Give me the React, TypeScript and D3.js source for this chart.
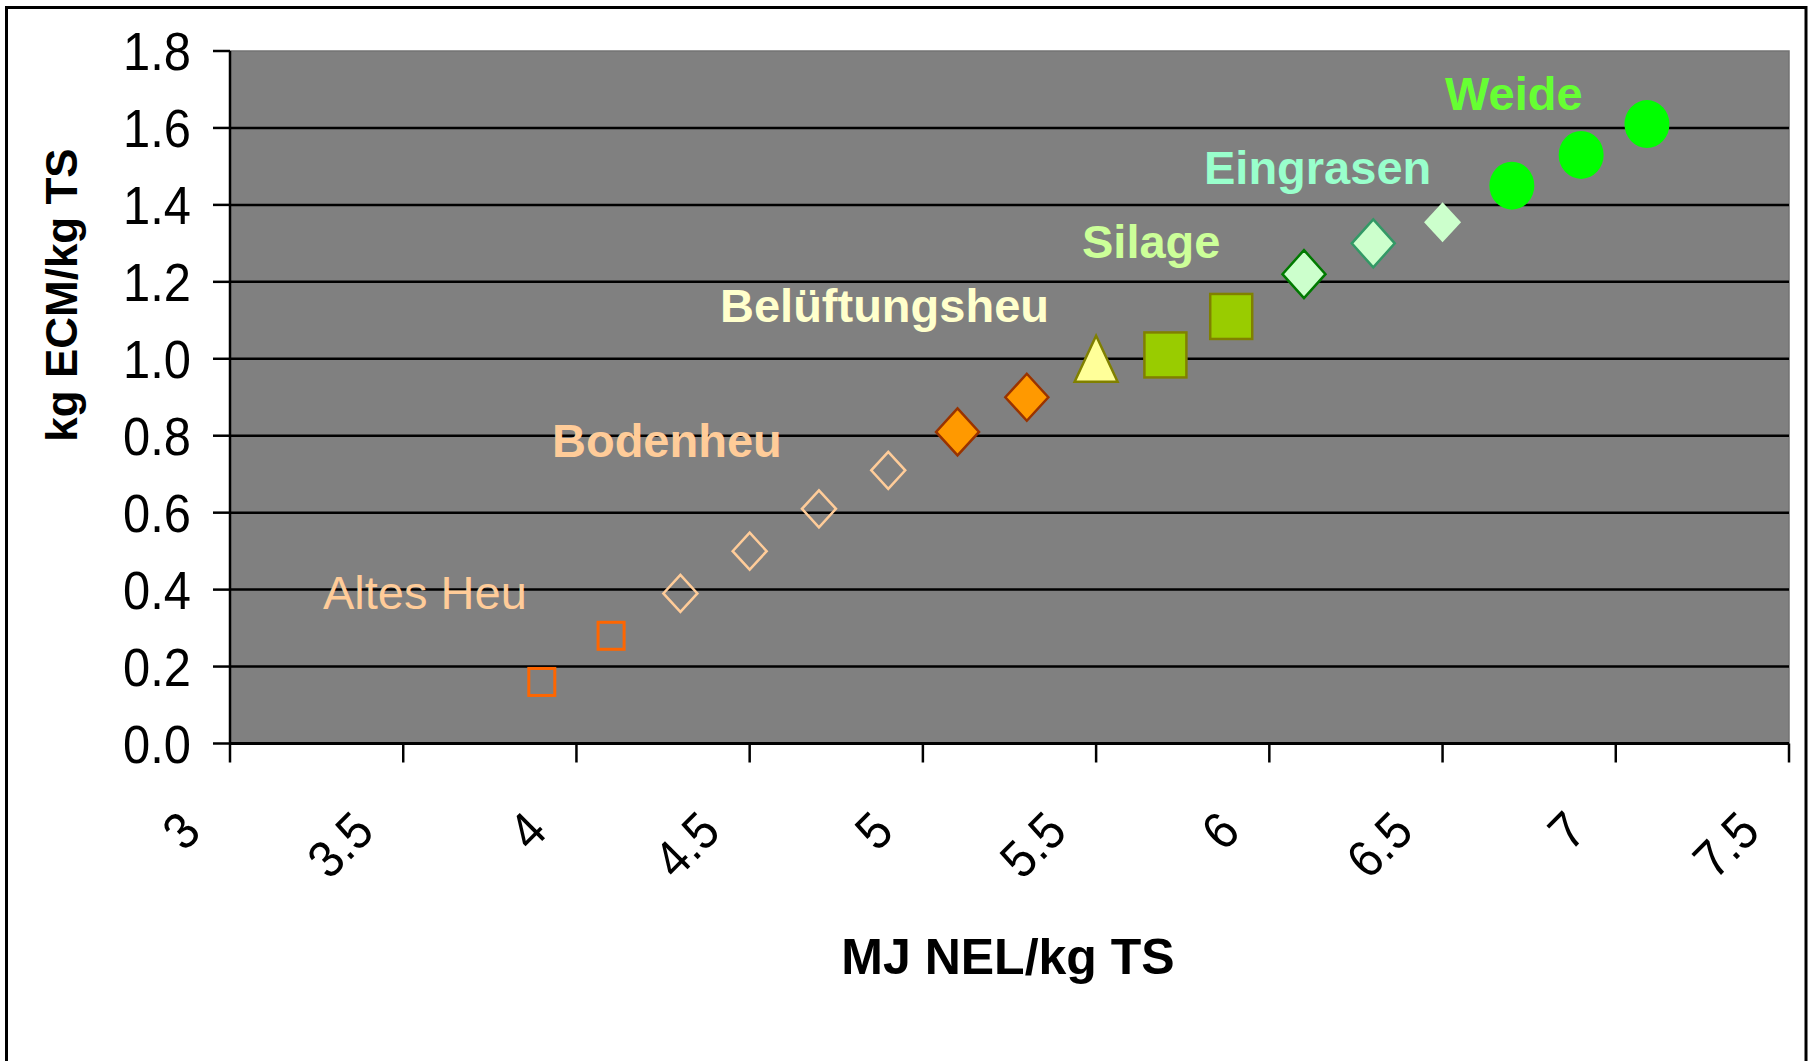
import React from "react";
import * as d3 from "d3";

// Forage groups: energy density (MJ NEL/kg TS) vs. milk yield (kg ECM/kg TS)
const altesHeuX = [3.9, 4.1];
const altesHeuY = [0.16, 0.28];
const bodenheuOpenX = [4.3, 4.5, 4.7, 4.9];
const bodenheuOpenY = [0.39, 0.5, 0.61, 0.71];
const bodenheuFilledX = [5.1, 5.3];
const bodenheuFilledY = [0.81, 0.9];
const belueftungsheuX = [5.5];
const belueftungsheuY = [1.0];
const silageX = [5.7, 5.89];
const silageY = [1.01, 1.11];
const eingrasenX = [6.1, 6.3, 6.5];
const eingrasenY = [1.22, 1.3, 1.355];
const weideX = [6.7, 6.9, 7.09];
const weideY = [1.45, 1.53, 1.61];

const xTicks = [3, 3.5, 4, 4.5, 5, 5.5, 6, 6.5, 7, 7.5];
const yTicks = [0, 0.2, 0.4, 0.6, 0.8, 1.0, 1.2, 1.4, 1.6, 1.8];

const FONT = "'Liberation Sans', Arial, Helvetica, sans-serif";

const W = 1814;
const H = 1061;
const plot = { left: 230, right: 1789, top: 51, bottom: 743.5 };

const x = d3.scaleLinear().domain([3, 7.5]).range([plot.left, plot.right]);
const y = d3.scaleLinear().domain([0, 1.8]).range([plot.bottom, plot.top]);

const zip = (xs: number[], ys: number[]) => xs.map((v, i) => [v, ys[i]] as [number, number]);

const diamondPath = (cx: number, cy: number, hw: number, hh: number) => {
  const p = d3.path();
  p.moveTo(cx, cy - hh);
  p.lineTo(cx + hw, cy);
  p.lineTo(cx, cy + hh);
  p.lineTo(cx - hw, cy);
  p.closePath();
  return p.toString();
};

const trianglePath = (cx: number, cy: number, hw: number, hh: number) => {
  const p = d3.path();
  p.moveTo(cx, cy - hh);
  p.lineTo(cx + hw, cy + hh);
  p.lineTo(cx - hw, cy + hh);
  p.closePath();
  return p.toString();
};

type Label = { text: string; x: number; y: number; color: string; bold: boolean };
const groupLabels: Label[] = [
  { text: "Altes Heu", x: 323, y: 609, color: "#ffcc99", bold: false },
  { text: "Bodenheu", x: 552, y: 457, color: "#ffcc99", bold: true },
  { text: "Belüftungsheu", x: 720, y: 322, color: "#ffffcc", bold: true },
  { text: "Silage", x: 1082, y: 258, color: "#ccff99", bold: true },
  { text: "Eingrasen", x: 1204, y: 184, color: "#99ffcc", bold: true },
  { text: "Weide", x: 1445, y: 110, color: "#66ff33", bold: true },
];

const eingrasenStrokes = ["#007a00", "#339966", "none"];

export default function App() {
  return (
    <svg
      width={W}
      height={H}
      style={{ position: "absolute", left: 0, top: 0, background: "#ffffff" }}
      fontFamily={FONT}
    >
      <rect x={0} y={0} width={W} height={H} fill="#ffffff" />
      {/* outer chart border */}
      <rect x={6.5} y={7.5} width={1799.5} height={1080} fill="none" stroke="#000" strokeWidth={3} />

      {/* plot area */}
      <rect
        x={plot.left}
        y={plot.top}
        width={plot.right - plot.left}
        height={plot.bottom - plot.top}
        fill="#808080"
        stroke="#737373"
        strokeWidth={1.5}
      />

      {/* horizontal gridlines */}
      {yTicks
        .filter((t) => t > 0 && t < 1.8)
        .map((t) => (
          <line key={`g${t}`} x1={plot.left} x2={plot.right} y1={y(t)} y2={y(t)} stroke="#000" strokeWidth={2.5} />
        ))}

      {/* axes */}
      <line x1={plot.left} x2={plot.right} y1={y(0)} y2={y(0)} stroke="#000" strokeWidth={3} />
      <line x1={plot.left} x2={plot.left} y1={plot.top} y2={plot.bottom} stroke="#000" strokeWidth={2.5} />

      {yTicks.map((t) => (
        <g key={`yt${t}`}>
          <line x1={plot.left - 17} x2={plot.left} y1={y(t)} y2={y(t)} stroke="#000" strokeWidth={2.5} />
          <text
            transform={`translate(${191},${y(t) + 19}) scale(0.94,1.02)`}
            textAnchor="end"
            fontSize={52}
            fill="#000"
          >
            {t.toFixed(1)}
          </text>
        </g>
      ))}

      {xTicks.map((t) => (
        <g key={`xt${t}`}>
          <line x1={x(t)} x2={x(t)} y1={plot.bottom} y2={plot.bottom + 19} stroke="#000" strokeWidth={2.5} />
          <text
            transform={`translate(${x(t) - 27},${834}) rotate(-45) scale(0.92,1)`}
            textAnchor="end"
            fontSize={52}
            fill="#000"
          >
            {String(t)}
          </text>
        </g>
      ))}

      {/* axis titles */}
      <text x={1008} y={974} textAnchor="middle" fontSize={50} fontWeight="bold" fill="#000">
        MJ NEL/kg TS
      </text>
      <text
        transform={`translate(77,295) rotate(-90)`}
        textAnchor="middle"
        fontSize={44}
        fontWeight="bold"
        fill="#000"
      >
        kg ECM/kg TS
      </text>

      {/* Altes Heu: open squares */}
      {zip(altesHeuX, altesHeuY).map(([a, b], i) => (
        <rect
          key={`ah${i}`}
          x={x(a) - 13}
          y={y(b) - 13.5}
          width={26}
          height={27}
          fill="none"
          stroke="#ff6600"
          strokeWidth={3}
        />
      ))}

      {/* Bodenheu: open and filled diamonds */}
      {zip(bodenheuOpenX, bodenheuOpenY).map(([a, b], i) => (
        <path key={`bo${i}`} d={diamondPath(x(a), y(b), 17, 18.5)} fill="none" stroke="#ffcc99" strokeWidth={2.5} />
      ))}
      {zip(bodenheuFilledX, bodenheuFilledY).map(([a, b], i) => (
        <path
          key={`bf${i}`}
          d={diamondPath(x(a), y(b), 21.5, 23.5)}
          fill="#ff9900"
          stroke="#993300"
          strokeWidth={2.5}
        />
      ))}

      {/* Belüftungsheu: triangle */}
      {zip(belueftungsheuX, belueftungsheuY).map(([a, b], i) => (
        <path
          key={`bl${i}`}
          d={trianglePath(x(a), y(b), 21.5, 23)}
          fill="#ffff99"
          stroke="#808000"
          strokeWidth={2.5}
        />
      ))}

      {/* Silage: filled squares */}
      {zip(silageX, silageY).map(([a, b], i) => (
        <rect
          key={`si${i}`}
          x={x(a) - 21}
          y={y(b) - 22.5}
          width={42}
          height={45}
          fill="#99cc00"
          stroke="#808000"
          strokeWidth={2.5}
        />
      ))}

      {/* Eingrasen: pale diamonds */}
      {zip(eingrasenX, eingrasenY).map(([a, b], i) => (
        <path
          key={`ei${i}`}
          d={i < 2 ? diamondPath(x(a), y(b), 21.5, 24) : diamondPath(x(a), y(b), 18.5, 20)}
          fill="#ccffcc"
          stroke={eingrasenStrokes[i]}
          strokeWidth={2.5}
        />
      ))}

      {/* Weide: green dots */}
      {zip(weideX, weideY).map(([a, b], i) => (
        <ellipse key={`we${i}`} cx={x(a)} cy={y(b)} rx={22.5} ry={24} fill="#00ff00" />
      ))}

      {/* group labels */}
      {groupLabels.map((l) => (
        <text
          key={l.text}
          x={l.x}
          y={l.y}
          fontSize={47}
          fontWeight={l.bold ? "bold" : "normal"}
          fill={l.color}
        >
          {l.text}
        </text>
      ))}
    </svg>
  );
}
